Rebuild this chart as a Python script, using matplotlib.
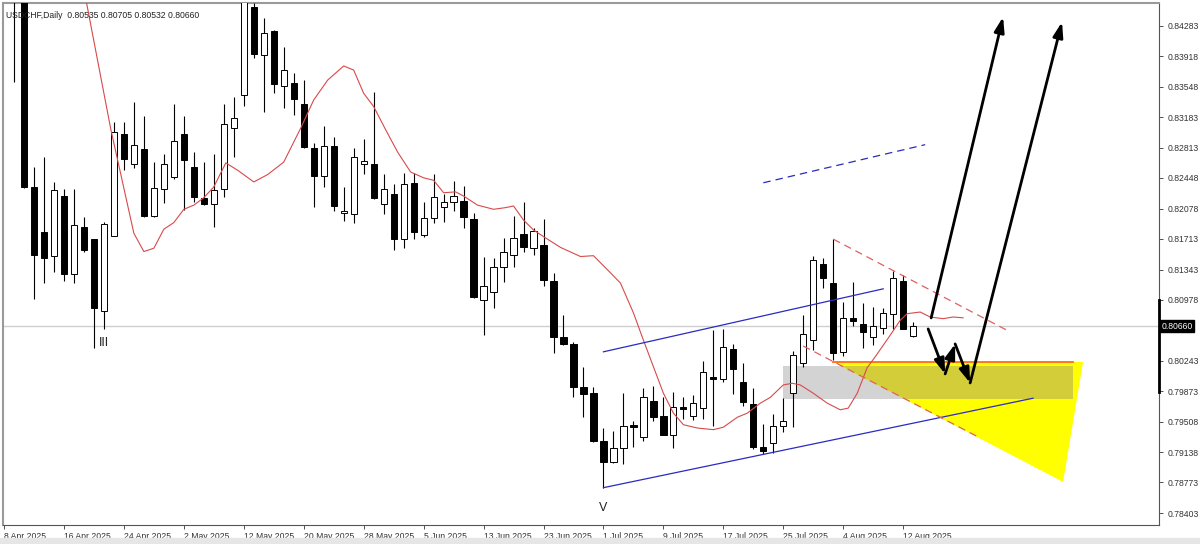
# USDCHF daily candles with channel / target drawings
import numpy as np
import pandas as pd
import matplotlib
matplotlib.use("Agg")
import matplotlib.pyplot as plt
from matplotlib.patches import Polygon, Rectangle
from matplotlib.transforms import blended_transform_factory

plt.rcParams['font.family'] = ['Liberation Sans', 'DejaVu Sans']

# daily bars, 8 Apr 2025 .. 13 Aug 2025
dates = pd.bdate_range('2025-04-08', periods=92)

opens = [0.8560, 0.8520, 0.8490, 0.8234, 0.8180, 0.8151, 0.8223, 0.8129, 0.8186, 0.8171,
         0.8084, 0.8175, 0.8298, 0.8262, 0.8280, 0.8199, 0.8232, 0.8246, 0.8298, 0.8258,
         0.8221, 0.8213, 0.8232, 0.8305, 0.8345, 0.8451, 0.8393, 0.8422, 0.8356, 0.8359,
         0.8334, 0.8281, 0.8247, 0.8283, 0.8203, 0.8201, 0.8262, 0.8262, 0.8213, 0.8226,
         0.8171, 0.8239, 0.8176, 0.8197, 0.8210, 0.8216, 0.8217, 0.8195, 0.8097, 0.8107,
         0.8137, 0.8152, 0.8177, 0.8160, 0.8164, 0.8121, 0.8053, 0.8045, 0.7993, 0.7985,
         0.7927, 0.7902, 0.7919, 0.7947, 0.7932, 0.7976, 0.7958, 0.7935, 0.7968, 0.7958,
         0.7967, 0.8005, 0.8002, 0.8038, 0.7999, 0.7972, 0.7920, 0.7925, 0.7946, 0.7985,
         0.8021, 0.8049, 0.8141, 0.8118, 0.8035, 0.8076, 0.8068, 0.8053, 0.8064, 0.8081,
         0.8121, 0.80535]
highs = [0.8620, 0.8590, 0.8500, 0.8258, 0.8270, 0.8240, 0.8231, 0.8231, 0.8198, 0.8171,
         0.8192, 0.8312, 0.8312, 0.8336, 0.8320, 0.8264, 0.8274, 0.8334, 0.8320, 0.8276,
         0.8264, 0.8274, 0.8334, 0.8343, 0.8475, 0.8456, 0.8438, 0.8424, 0.8403, 0.8372,
         0.8363, 0.8287, 0.8308, 0.8294, 0.8234, 0.8281, 0.8292, 0.8349, 0.8250, 0.8237,
         0.8251, 0.8251, 0.8216, 0.8250, 0.8226, 0.8241, 0.8235, 0.8203, 0.8149, 0.8148,
         0.8172, 0.8199, 0.8216, 0.8185, 0.8195, 0.8130, 0.8080, 0.8047, 0.8017, 0.7993,
         0.7943, 0.7939, 0.7985, 0.7952, 0.7991, 0.7994, 0.7981, 0.7987, 0.7980, 0.7983,
         0.8024, 0.8061, 0.8063, 0.8044, 0.8022, 0.7991, 0.7948, 0.7960, 0.7979, 0.8036,
         0.8080, 0.8151, 0.8148, 0.8171, 0.8095, 0.8119, 0.8094, 0.8089, 0.8088, 0.8133,
         0.8128, 0.80705]
lows = [0.8500, 0.8361, 0.8233, 0.8099, 0.8118, 0.8131, 0.8121, 0.8118, 0.8155, 0.8040,
        0.8062, 0.8175, 0.8254, 0.8257, 0.8198, 0.8198, 0.8215, 0.8244, 0.8206, 0.8216,
        0.8212, 0.8186, 0.8222, 0.8270, 0.8332, 0.8390, 0.8325, 0.8347, 0.8329, 0.8321,
        0.8281, 0.8210, 0.8234, 0.8205, 0.8193, 0.8191, 0.8249, 0.8220, 0.8201, 0.8158,
        0.8160, 0.8171, 0.8174, 0.8191, 0.8192, 0.8205, 0.8185, 0.8100, 0.8055, 0.8088,
        0.8119, 0.8137, 0.8155, 0.8152, 0.8115, 0.8034, 0.8043, 0.7981, 0.7956, 0.7926,
        0.7871, 0.7901, 0.7900, 0.7920, 0.7927, 0.7952, 0.7934, 0.7919, 0.7954, 0.7953,
        0.7954, 0.7946, 0.7999, 0.7984, 0.7970, 0.7918, 0.7912, 0.7913, 0.7938, 0.7944,
        0.8017, 0.8037, 0.8112, 0.8025, 0.8030, 0.8066, 0.8040, 0.8043, 0.8057, 0.8063,
        0.8063, 0.80532]
closes = [0.8520, 0.8500, 0.8234, 0.8152, 0.8148, 0.8230, 0.8129, 0.8188, 0.8158, 0.8088,
          0.8189, 0.8300, 0.8268, 0.8285, 0.8199, 0.8233, 0.8262, 0.8290, 0.8267, 0.8222,
          0.8213, 0.8230, 0.8310, 0.8317, 0.8465, 0.8395, 0.8420, 0.8358, 0.8375, 0.8340,
          0.8282, 0.8247, 0.8283, 0.8211, 0.8205, 0.8270, 0.8265, 0.8221, 0.8232, 0.8171,
          0.8238, 0.8180, 0.8197, 0.8222, 0.8216, 0.8223, 0.8198, 0.8101, 0.8115, 0.8137,
          0.8155, 0.8172, 0.8162, 0.8181, 0.8122, 0.8053, 0.8045, 0.7993, 0.7984, 0.7927,
          0.7902, 0.7919, 0.7946, 0.7944, 0.7981, 0.7956, 0.7935, 0.7968, 0.7966, 0.7973,
          0.8011, 0.8002, 0.8041, 0.8014, 0.7975, 0.7920, 0.7915, 0.7946, 0.7952, 0.8031,
          0.8057, 0.8146, 0.8124, 0.8034, 0.8076, 0.8072, 0.8059, 0.8066, 0.8082, 0.8124,
          0.8063, 0.80660]

# red moving average (shifted): bar position / price
ma_bar = [8.2, 10.7, 13.0, 14.0, 15.0, 16.0, 17.0, 18.0, 19.0, 20.0,
          21.0, 22.2, 23.4, 25.0, 26.4, 28.0, 29.7, 31.0, 32.4, 34.0,
          35.0, 36.0, 37.0, 38.2, 39.4, 40.7, 42.0, 43.0, 44.0, 45.2,
          46.0, 47.4, 49.0, 50.2, 51.0, 52.0, 53.0, 54.0, 55.7, 57.7,
          59.0, 60.4, 61.7, 63.0, 64.0, 65.0, 66.0, 67.0, 68.0, 69.4,
          71.0, 72.0, 73.4, 74.4, 75.7, 76.7, 78.0, 78.9, 79.7, 81.0,
          82.4, 83.7, 84.5, 85.4, 86.4, 87.2, 88.7, 89.7, 90.4, 91.7,
          92.7, 94.0, 95.0, 96.0]
ma_price = [0.8460, 0.8303, 0.8178, 0.8156, 0.8160, 0.8183, 0.8191, 0.8207, 0.8212, 0.8221,
            0.8234, 0.8263, 0.8254, 0.8240, 0.8249, 0.8264, 0.8305, 0.8339, 0.8363, 0.8380,
            0.8375, 0.8347, 0.8331, 0.8303, 0.8276, 0.8252, 0.8245, 0.8242, 0.8227, 0.8228,
            0.8223, 0.8212, 0.8207, 0.8209, 0.8211, 0.8194, 0.8182, 0.8174, 0.8161, 0.8150,
            0.8151, 0.8134, 0.8118, 0.8082, 0.8049, 0.8017, 0.7985, 0.7961, 0.7947, 0.7943,
            0.7941, 0.7944, 0.7956, 0.7961, 0.7973, 0.7980, 0.7995, 0.7997, 0.7995, 0.7985,
            0.7973, 0.7965, 0.7967, 0.7985, 0.8016, 0.8029, 0.8055, 0.8073, 0.8081, 0.8083,
            0.8077, 0.8075, 0.8077, 0.8076]

price_ticks = [0.84283, 0.83918, 0.83548, 0.83183, 0.82813, 0.82448, 0.82078, 0.81713,
               0.81343, 0.80978, 0.80243, 0.79873, 0.79508, 0.79138, 0.78773, 0.78403]
last_price = 0.80660

# drawn objects (bar index, price)
chan_upper = ([60.0, 88.0], [0.8035, 0.8111])
chan_lower = ([60.0, 103.0], [0.7871, 0.7979])
chan_mid_dash = ([76.0, 92.2], [0.8239, 0.8285])
wedge_upper = ([83.0, 100.7], [0.8171, 0.8059])
wedge_lower = ([80.0, 97.7], [0.8042, 0.7931])
target_tri = [(83.0, 0.80228), (108.0, 0.80228), (106.0, 0.78779)]
zone_bars = (78.0, 107.0)
zone_prices = (0.7978, 0.8018)
arrow_up1 = [(92.8, 0.80759), (100.0, 0.84392)]
zigzag = [(92.5, 0.80626), (94.2, 0.80083), (95.2, 0.80445), (96.7, 0.79974), (105.9, 0.84331)]
wave_labels = [('III', 10, 0.8046), ('V', 60, 0.7847)]

fig = plt.figure(figsize=(12, 5.44), dpi=100)
ax = fig.add_axes([0.0025, 0.035, 0.9633, 0.9595])

x = np.arange(len(dates))
o = np.array(opens); h = np.array(highs); l = np.array(lows); c = np.array(closes)
up = c >= o

# zones
ax.add_patch(Rectangle((zone_bars[0], zone_prices[0]), zone_bars[1] - zone_bars[0],
                       zone_prices[1] - zone_prices[0], color='#d3d3d3', lw=0, zorder=1))
tri = Polygon(target_tri, closed=True, color='#ffff00', lw=0, zorder=1.1)
ax.add_patch(tri)
overlap = Rectangle((zone_bars[0], zone_prices[0]), zone_bars[1] - zone_bars[0],
                    zone_prices[1] - zone_prices[0], color='#d4cd3a', lw=0, zorder=1.2)
ax.add_patch(overlap)
overlap.set_clip_path(tri)
ax.plot([target_tri[0][0], zone_bars[1]], [target_tri[0][1]] * 2, color='#ff6a1a', lw=1.3, zorder=1.3)

# current price line
ax.axhline(last_price, color='#cfcfcf', lw=1, zorder=0.5)

# candles
ax.vlines(x, l, h, color='black', lw=0.8, zorder=3)
body_bottom = np.minimum(o, c)
body_h = np.maximum(np.abs(c - o), 0.00006)
ax.bar(x, body_h, bottom=body_bottom, width=0.62,
       color=np.where(up, 'white', 'black'), edgecolor='black', lw=0.7, zorder=4)

# moving average
ax.plot(ma_bar, ma_price, color='#d84a4a', lw=0.8, zorder=5)

# channel lines
ax.plot(*chan_upper, color='#2b2bbf', lw=0.9, zorder=5)
ax.plot(*chan_lower, color='#2b2bbf', lw=0.9, zorder=5)
ax.plot(*chan_mid_dash, color='#2b2bbf', lw=0.9, ls=(0, (6, 4)), zorder=5)
ax.plot(*wedge_upper, color='#e06060', lw=0.9, ls=(0, (6, 4)), zorder=5)
ax.plot(*wedge_lower, color='#e06060', lw=0.9, ls=(0, (6, 4)), zorder=5)

# arrows
aprops = dict(arrowstyle='-|>,head_length=0.9,head_width=0.3', color='black', lw=2,
              shrinkA=0, shrinkB=0, mutation_scale=10)
ax.annotate('', xy=arrow_up1[1], xytext=arrow_up1[0], arrowprops=aprops, zorder=6)
for p0, p1 in zip(zigzag[:-1], zigzag[1:]):
    ax.annotate('', xy=p1, xytext=p0, arrowprops=aprops, zorder=6)

# wave labels
for txt, bx, py in wave_labels:
    ax.text(bx, py, txt, fontsize=9, ha='center', va='center', color='#222', zorder=6)

ax.set_xlim(-0.1, 115.6)
ax.set_ylim(0.7826, 0.8456)

# axes styling
ax.yaxis.tick_right()
ax.set_yticks(price_ticks)
ax.set_yticklabels([f'{p:.5f}' for p in price_ticks])
ax.tick_params(axis='y', length=3, width=0.6, pad=3, labelsize=6.2, colors='#333')
tick_idx = list(range(0, len(dates), 6))
ax.set_xticks(tick_idx)
ax.set_xticklabels([f'{dates[i].day} {dates[i].strftime("%b %Y")}' for i in tick_idx],
                   ha='left')
ax.tick_params(axis='x', length=3, width=0.6, pad=2, labelsize=6.2, colors='#333')
for s in ['top', 'left']:
    ax.spines[s].set_color('#9a9a9a')
    ax.spines[s].set_linewidth(1.5)
for s in ['right', 'bottom']:
    ax.spines[s].set_color('#555555')
    ax.spines[s].set_linewidth(0.8)

trans = blended_transform_factory(ax.transAxes, ax.transData)
ax.plot([1.0, 1.0], [0.8098, 0.7987], color='black', lw=2, transform=trans, clip_on=False, zorder=7)
ax.text(1.002, last_price, '0.80660', transform=trans, fontsize=6.2, color='white',
        va='center', ha='left', zorder=8,
        bbox=dict(boxstyle='square,pad=0.15', fc='black', ec='black'))

ax.text(0.003, 0.985, 'USDCHF,Daily  0.80535 0.80705 0.80532 0.80660', transform=ax.transAxes,
        fontsize=6.2, color='#222', va='top', ha='left', zorder=8)

fig.patches.append(Rectangle((0, 0), 1, 0.011, transform=fig.transFigure, color='#e6e6e6', zorder=0))

fig.savefig('out.png', dpi=100)
